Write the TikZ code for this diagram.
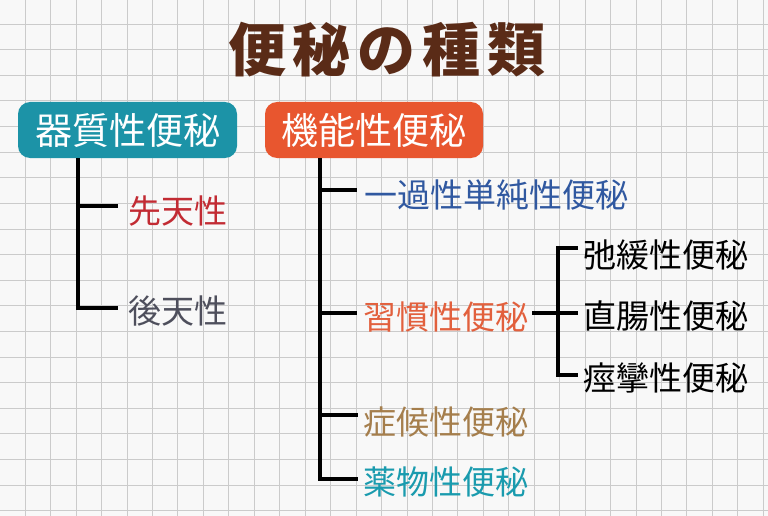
\documentclass[tikz,border=0pt]{standalone}
\usepackage{fontspec}
\newfontfamily\cjk{Noto Sans CJK JP}
\definecolor{bg}{HTML}{F8F8F8}
\definecolor{gridc}{HTML}{CBCBCB}
\definecolor{titlec}{HTML}{5A2B17}
\definecolor{tealbox}{HTML}{1C93A7}
\definecolor{orangebox}{HTML}{E8562F}
\definecolor{redt}{HTML}{C22B33}
\definecolor{grayt}{HTML}{4E4F5C}
\definecolor{bluet}{HTML}{3058A0}
\definecolor{oranget}{HTML}{E2603D}
\definecolor{tant}{HTML}{A57E4C}
\definecolor{tealt}{HTML}{1A9BAE}
\begin{document}
\begin{tikzpicture}[x=1pt,y=-1pt,
  conn/.style={line width=3.6pt,black},
  box/.style={rounded corners=12pt,inner sep=0pt,minimum height=56pt,text=white,
    font=\cjk\fontsize{37}{37}\selectfont},
  lab/.style={anchor=west,inner sep=0pt,font=\cjk\fontsize{33}{33}\selectfont},
  titlestyle/.style={inner sep=0pt,text=titlec,
    font=\cjk\bfseries\addfontfeature{LetterSpace=12}\fontsize{58}{58}\selectfont}]
\useasboundingbox (0,0) rectangle (768,516);
\fill[bg] (0,0) rectangle (768,516);
\foreach \k in {1,...,30} {
  \draw[gridc,line width=0.8pt] ({25.45*\k-0.3},0) -- ({25.45*\k-0.3},516);
}
\foreach \k in {1,...,20} {
  \draw[gridc,line width=0.8pt] (0,{25.6*\k-1.5}) -- (768,{25.6*\k-1.5});
}
\node[titlestyle] (title) at (387,50) {便秘の種類};
\node[box,fill=tealbox,minimum width=219pt] (lbox) at (127.5,130) {器質性便秘};
\node[box,fill=orangebox,minimum width=218pt] (rbox) at (374,130) {機能性便秘};

\node[lab,text=redt] (sentan) at (128,211) {先天性};
\node[lab,text=grayt] (koten) at (128,311) {後天性};
\node[lab,text=bluet] (ikka) at (364,195) {一過性単純性便秘};
\node[lab,text=oranget] (shukan) at (363,317) {習慣性便秘};
\node[lab,text=black] (shikan) at (583,255) {弛緩性便秘};
\node[lab,text=black] (chokucho) at (583,316) {直腸性便秘};
\node[lab,text=black] (keiren) at (583,378) {痙攣性便秘};
\node[lab,text=tant] (shoko) at (363,422) {症候性便秘};
\node[lab,text=tealt] (yakubutsu) at (363,482) {薬物性便秘};

\coordinate (lv) at ([xshift=60pt]lbox.south west);
\draw[conn] (lv) |- ([xshift=-10pt,yshift=5pt]sentan.west);
\draw[conn] (lv) |- ([xshift=-10pt,yshift=3pt]koten.west);

\coordinate (rv) at ([xshift=55pt]rbox.south west);
\draw[conn] (rv) |- ([xshift=-7pt,yshift=5pt]ikka.west);
\draw[conn] (rv) |- ([xshift=-6pt,yshift=4pt]shukan.west);
\draw[conn] (rv) |- ([xshift=-5pt,yshift=7pt]shoko.west);
\draw[conn] (rv) |- ([xshift=-5pt,yshift=3pt]yakubutsu.west);

\draw[conn] ([xshift=4pt,yshift=4pt]shukan.east) -- ([xshift=-5pt,yshift=3pt]chokucho.west);
\draw[conn] ([xshift=-5pt,yshift=7pt]shikan.west) -| ([xshift=-25pt,yshift=3pt]keiren.west)
  -- ([xshift=-5pt,yshift=3pt]keiren.west);
\end{tikzpicture}
\end{document}
